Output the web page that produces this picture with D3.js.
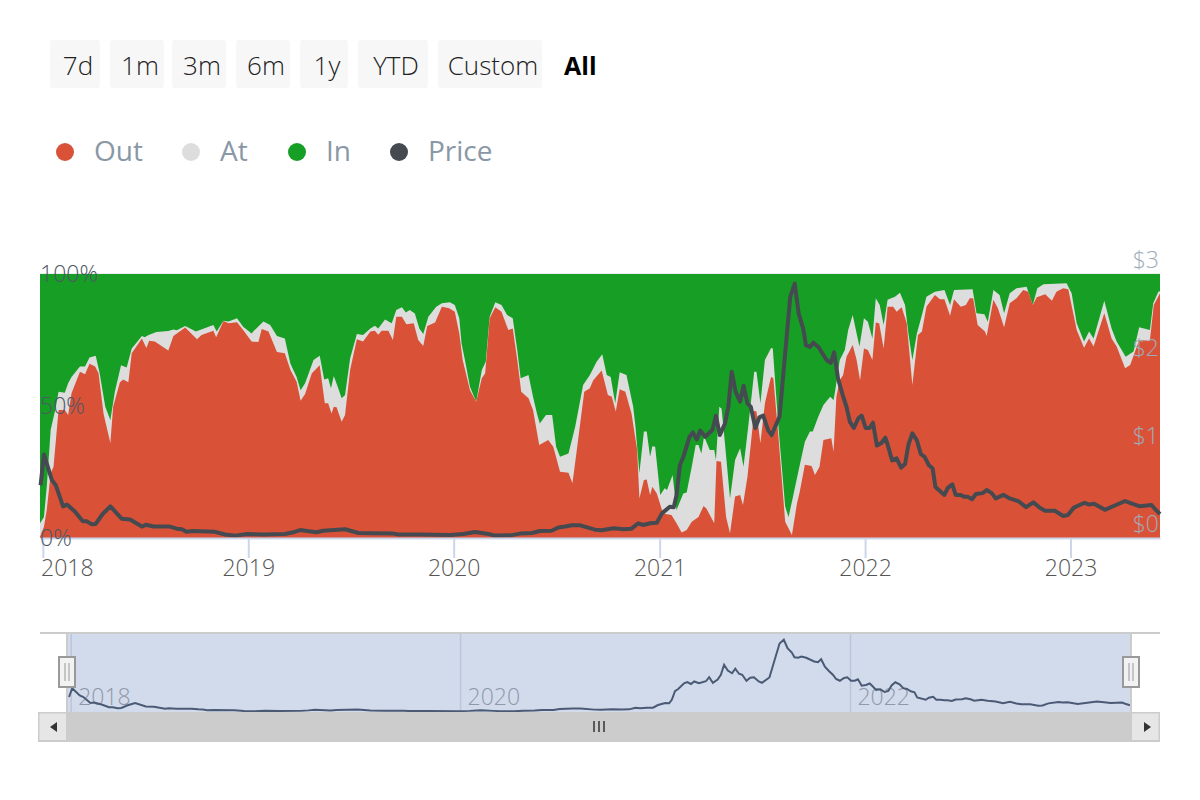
<!DOCTYPE html>
<html>
<head>
<meta charset="utf-8">
<script src="https://cdnjs.cloudflare.com/ajax/libs/d3/7.8.5/d3.min.js"></script>
<style>
  html, body { margin: 0; background: #fff; }
  svg { display: block; font-family: "Open Sans", sans-serif; }
</style>
</head>
<body>
<svg id="chart" width="1200" height="800"></svg>
<script>
// [weeks since startDate, value]
const startDate = new Date(2017, 11, 27);
const endDate = new Date(2023, 5, 9);

const rangeButtons = ['7d', '1m', '3m', '6m', '1y', 'YTD', 'Custom'];
const activeButton = 'All';
const legendNames = ['Out', 'At', 'In', 'Price'];
const yTicks = [0, 50, 100];
const priceTicks = [0, 1, 2, 3];
const navYears = [2018, 2020, 2022];

// Share of addresses out of the money, %
const outShare = [[0,0.5],[1,4.3],[1.7,10.6],[2.7,24.5],[3.4,27],[4.7,48.5],[6.3,48.5],[7.2,46.6],[8,54.8],[10.2,63],[11.4,62],[12.5,66],[14,65],[14.8,62.4],[16.2,47],[17.9,36],[18.6,49.7],[20.3,59],[21.2,60],[22.4,59],[23.3,70],[25.8,75.6],[27,72],[27.7,74.7],[29.2,74.4],[32.6,71],[33.8,76.5],[36.8,79.7],[39.8,75.3],[41,76.9],[44,78.5],[44.7,76],[46.5,82.2],[47.8,81.3],[50,81.7],[51.6,78.8],[53.7,74.4],[55.4,74.2],[56.3,79.2],[58,78.2],[60.2,70.5],[62.2,70],[63.5,63.6],[65.1,59.2],[66.2,52],[67.3,54.5],[69,62.4],[71,65.4],[72.3,51],[73.2,51],[74,47.2],[74.6,49.7],[75.3,49.5],[76.6,44],[77.4,46.6],[78.7,63.6],[80.4,75.3],[82,74.4],[83.8,78.2],[85,78.5],[85.9,77],[86.7,78.5],[88.4,78.5],[89.5,75],[90.4,83.8],[91.8,83.8],[93,81],[94.8,81.3],[96,75],[97.3,72.7],[98.3,80.3],[100.3,81.6],[102,87.6],[103.9,87],[105.3,85.7],[106.4,77.5],[107.3,67.4],[109.1,56],[110.7,51.6],[112.1,60.5],[113,62.4],[114.2,83.2],[115.5,87.4],[117.2,85.7],[118.9,78.8],[120,79.4],[121.2,67.4],[122.1,55.4],[124,52.9],[125.2,48.5],[126.7,35.2],[129,37.1],[130.3,34.6],[132,25.1],[134.1,24.7],[135.2,20.7],[136.2,32],[138.1,55.4],[139.6,56.7],[140.4,59.8],[142.6,63.4],[144.2,54.2],[145.1,53.5],[146.1,47.9],[147.2,56.3],[148.5,55.4],[150.2,47.2],[151.5,33.3],[152.1,15],[153.3,22],[154,22.2],[154.8,16.3],[155.4,19.4],[156.5,16.9],[158.2,9.3],[160.3,8.7],[161.6,5.6],[162.9,2.1],[164.1,3],[165.4,6.2],[167.1,8],[168.4,12.1],[169.2,11.2],[171.1,5.6],[171.7,29.2],[172.8,28.9],[174.1,8],[175.1,1.8],[176.4,15.7],[177.7,16.3],[178.4,12.5],[179.5,23.2],[181.3,48.2],[181.9,47.9],[182.9,35.9],[184,51],[185.5,61.1],[186.1,60.5],[187.4,38.4],[189.1,6.2],[190.8,1.1],[192.1,13.1],[192.9,17.6],[194.2,27.7],[195.9,27.3],[196.7,23.9],[197.8,27],[198.8,37.1],[200.9,37.8],[201.4,32.7],[202.2,53.5],[203,59.8],[203.9,61.7],[204.7,68.7],[206.3,73.1],[207.3,67.4],[208.1,59.8],[209.1,71.8],[210.2,71.2],[211.3,67.4],[212.2,81.6],[213,81.3],[214.2,71.8],[215.1,87.6],[216.6,87.6],[217.4,85.7],[218.7,87.4],[220,81.3],[221.4,58],[222.9,76.9],[223.8,78.2],[225,87.6],[227.2,92],[228.4,90.4],[229.5,90.4],[231,84.2],[232,90.4],[233.7,87.6],[235,88.3],[236,90.8],[236.9,90.8],[238,80.7],[239.9,78.2],[240.3,76.5],[242,90.2],[243.2,87],[244.7,79.8],[246.2,88.9],[247.9,90.8],[249.6,93.9],[250.9,93.3],[252,88.3],[253,91.2],[255.1,92.3],[256.8,89.9],[258,93.3],[259.7,94.6],[261,94.2],[263.1,78.8],[265,72.1],[266.3,75.6],[267.4,72.5],[270.1,85.1],[272,75.6],[273.3,72.5],[275.4,64.3],[276.7,65.5],[279,75],[281.7,74.7],[282.7,88.3],[284.3,92.7]];

// Out + at the money, stacked, %
const atStackTop = [[0,5.6],[1,8],[1.7,19.4],[2.7,41],[3.8,48.5],[4.7,55.4],[6.3,55],[7.2,58.6],[8,61],[10.2,65],[11.4,65],[12.5,68.4],[14.2,69],[15.2,62.4],[16.5,49.7],[17.8,44.7],[19,55.4],[20.5,65.4],[22,64.6],[23.3,71.8],[25.8,76.5],[26.6,76],[27.5,76.9],[29.6,78],[32.6,78.4],[33.8,79],[34.7,78.7],[36.8,80.3],[39.6,78.2],[44,80.7],[44.8,78.2],[46.5,82.3],[47.8,82],[50,83.2],[51.6,80],[53.7,77.5],[54.3,78.5],[56.7,82],[58.4,80.7],[60.2,76.5],[62.2,75.6],[63.5,66],[65.1,61],[66.2,56],[67.3,58.6],[69.4,67.4],[71,69],[72.1,60],[73.2,60.5],[73.8,56.7],[74.6,61.4],[75.5,57.3],[76.6,52.9],[77.4,54.2],[78.7,68],[80.4,77.3],[82,76.9],[83.8,79.4],[85,80.4],[85.9,79.4],[87.6,82.8],[89.3,81.3],[90.4,86.4],[91.8,87.4],[92.8,85.4],[93.9,86.4],[95.2,85],[96.3,79.4],[97.3,77.3],[98.6,83.8],[100.5,87.6],[102,88.9],[104,89.3],[105.3,88.3],[106.4,83.2],[107,73.7],[107.9,67.4],[109.1,57.3],[110.7,51.6],[112.1,63.6],[113.2,66.8],[114.2,83.8],[115.5,89.3],[117.2,88.3],[118.6,84.5],[120,83.2],[121.2,71.2],[122,60.5],[124,61.7],[125.2,53.5],[126.2,47.2],[126.9,43.4],[128.4,46.6],[130,46.6],[131,34.6],[132,30.8],[134.1,32],[135.8,42.2],[137.9,58],[139.6,61.7],[141.3,66.8],[142.7,69.6],[143.8,61.7],[144.8,61],[146,51],[147.2,62.8],[148.9,61.7],[150.6,49.7],[151.2,42.2],[152.1,24.5],[153.3,40.3],[154,40.3],[154.8,30.8],[155.4,34.8],[156.1,34.6],[157.4,16.3],[158.6,18.8],[159.2,18.2],[160.5,23.9],[161.6,10.6],[163.3,16.9],[164.1,17.2],[165.4,27],[166.4,35.2],[167.1,35.2],[167.9,32],[168.5,38.4],[170,33.3],[171.1,33.3],[171.6,29.5],[172.4,49.7],[173,49],[173.9,35.9],[175.1,15],[176.4,29.5],[177.7,34],[178.5,27],[179.8,43.4],[181.3,63],[181.9,63],[182.9,51],[184,67.4],[185.5,72],[186,71.8],[187.4,42.2],[189.1,11.9],[190,8],[191.2,15.7],[192.5,25.8],[194.2,36.5],[195.4,40.3],[196.1,40.3],[197.6,46],[198.8,50.4],[200.5,53.5],[201.4,52.3],[201.8,56],[203,67.4],[204.3,71.2],[205.2,78.8],[206.3,84.5],[207.3,77.5],[208,72.5],[209.1,83.2],[210.2,81.9],[211.3,75.6],[212.2,90.8],[213.2,88.3],[214.2,80.7],[215.1,90.2],[217,91.4],[218.3,92.9],[219.6,88.3],[220.4,77.5],[221.4,67.4],[222.5,77.5],[223.8,84.5],[225,91.4],[227.2,93.3],[229.5,93.9],[231,88.3],[232,93.9],[236.7,94.2],[237.7,85.1],[239.7,84.8],[240.5,81.9],[242,93.9],[243.5,92],[244.7,85.1],[246.2,92.7],[247.9,94.6],[250.4,95.2],[252,88.3],[253.1,94.6],[254.7,96.1],[260.6,96.5],[261.9,92.7],[263.1,81.3],[265,74.4],[266.3,78.2],[267.4,75.6],[270.1,89.9],[272,79.4],[273.3,74.4],[275.6,68.7],[277.5,70.6],[279,79.8],[281.7,78.8],[282.6,88.9],[283.8,93.3],[284.3,93.5]];

// Everything on top of the stack reaches 100%
const inStackTop = [[0,100],[284.3,100]];

// Price in USD
const price = [[0.2,0.6],[1,0.95],[3,0.66],[4,0.6],[5.9,0.36],[6.9,0.38],[8.9,0.3],[10.8,0.19],[11.8,0.19],[13.1,0.155],[14.2,0.16],[15.9,0.27],[17.9,0.36],[20.7,0.22],[22.8,0.21],[25.8,0.13],[26.8,0.15],[28.8,0.13],[33,0.13],[34.7,0.106],[36,0.1],[37.2,0.07],[38.9,0.08],[44.4,0.07],[47,0.04],[49.5,0.027],[52.5,0.045],[56.7,0.04],[62.2,0.045],[64.3,0.065],[66,0.09],[70.2,0.065],[71.9,0.083],[77.4,0.1],[80.8,0.057],[84.6,0.053],[89.7,0.05],[91,0.04],[96.5,0.04],[104.1,0.034],[107.4,0.045],[110.4,0.068],[113.8,0.045],[115.5,0.027],[119.3,0.03],[121.8,0.05],[124.8,0.057],[126.9,0.08],[129.9,0.083],[131.6,0.12],[133.3,0.13],[135,0.144],[137.1,0.144],[140.9,0.095],[142.6,0.087],[145.5,0.11],[148.1,0.1],[150.2,0.106],[151.9,0.167],[153.1,0.148],[154.8,0.167],[156.5,0.174],[157.8,0.28],[159.9,0.356],[160.8,0.35],[161.6,0.49],[162.4,0.83],[163.3,0.92],[164.8,1.15],[165.7,1.2],[166.7,1.12],[167.5,1.22],[168.8,1.15],[170.7,1.23],[171.6,1.39],[172.6,1.17],[173.9,1.3],[174.7,1.49],[175.6,1.89],[176.6,1.66],[177.7,1.55],[178.5,1.73],[179.5,1.53],[180.4,1.49],[181.5,1.25],[182.6,1.37],[183.6,1.39],[184.9,1.22],[185.7,1.17],[187.7,1.38],[190.4,2.74],[191.6,2.89],[192.5,2.55],[193.7,2.38],[194.4,2.19],[195.4,2.17],[196.3,2.22],[197.6,2.17],[199.7,2.02],[200.7,1.99],[201.5,2.11],[202.6,1.81],[203.7,1.63],[204.7,1.49],[205.6,1.32],[206.6,1.25],[207.7,1.36],[208.6,1.39],[209.6,1.25],[210.5,1.25],[211.4,1.31],[212.4,1.05],[213.5,1.08],[214.5,1.14],[215.3,1.04],[216.3,0.88],[217.4,0.905],[218.5,0.8],[219.6,0.84],[220.4,1.06],[221.4,1.19],[222.5,1.11],[223.5,0.955],[224.5,0.92],[225.5,0.83],[226.5,0.79],[227.3,0.58],[229.5,0.49],[230.4,0.57],[231.5,0.61],[232.4,0.49],[233.5,0.49],[234.5,0.47],[235.4,0.47],[236.5,0.44],[237.6,0.5],[239.3,0.51],[240.3,0.545],[241.5,0.51],[242.6,0.45],[244.5,0.49],[246.2,0.45],[248.3,0.42],[250.3,0.35],[252.1,0.405],[253.8,0.34],[255.1,0.31],[257.6,0.31],[259.7,0.25],[260.8,0.26],[262.4,0.345],[265.2,0.4],[266.3,0.38],[267.6,0.39],[270.3,0.32],[275.4,0.42],[279.2,0.36],[282.2,0.375],[283,0.33],[284.3,0.27]];

const colors = { out: '#d95238', at: '#dddddd', in: '#169e25', price: '#454a50' };

const svg = d3.select('#chart');
const dateOf = w => d3.timeDay.offset(startDate, Math.round(w * 7));

// Range buttons
const buttonX = [50, 110, 172, 236, 300, 358, 438];
const buttonW = [50, 54, 54, 54, 48, 70, 104];
const buttons = svg.append('g').selectAll('g').data(rangeButtons).enter().append('g');
buttons.append('rect')
  .attr('x', (d, i) => buttonX[i]).attr('y', 40)
  .attr('width', (d, i) => buttonW[i]).attr('height', 48)
  .attr('rx', 3).attr('fill', '#f7f7f7');
buttons.append('text')
  .attr('x', (d, i) => buttonX[i] + buttonW[i] / 2 + 3).attr('y', 75)
  .attr('text-anchor', 'middle').attr('font-size', 26).attr('font-weight', 300)
  .attr('fill', '#222').text(d => d);
svg.append('text').attr('x', 564).attr('y', 75)
  .attr('font-size', 25).attr('font-weight', 'bold').attr('fill', '#000').text(activeButton);

// Legend
const legendX = [65, 191, 297, 399];
const legendColors = [colors.out, colors.at, colors.in, colors.price];
const legend = svg.append('g').selectAll('g').data(legendNames).enter().append('g');
legend.append('circle')
  .attr('cx', (d, i) => legendX[i]).attr('cy', 152).attr('r', 9)
  .attr('fill', (d, i) => legendColors[i]);
legend.append('text')
  .attr('x', (d, i) => legendX[i] + 29).attr('y', 161)
  .attr('font-size', 28).attr('fill', '#8a97a5').text(d => d);

// Main plot
const x = d3.scaleTime().domain([startDate, endDate]).range([40, 1160]);
const y = d3.scaleLinear().domain([0, 100]).range([538, 274]);
const yPrice = d3.scaleLinear().domain([0, 3]).range([538, 274]);

const area = d3.area().x(d => x(dateOf(d[0]))).y0(y(0)).y1(d => y(d[1]));
const plot = svg.append('g');
plot.append('line').attr('x1', 40).attr('x2', 1160).attr('y1', 273.5).attr('y2', 273.5).attr('stroke', '#eeeeee');
plot.append('path').datum(inStackTop).attr('d', area).attr('fill', colors.in);
plot.append('path').datum(atStackTop).attr('d', area).attr('fill', colors.at);
plot.append('path').datum(outShare).attr('d', area).attr('fill', colors.out);

const priceLine = d3.line().x(d => x(dateOf(d[0]))).y(d => yPrice(d[1]));
plot.append('path').datum(price).attr('d', priceLine)
  .attr('fill', 'none').attr('stroke', colors.price).attr('stroke-width', 4).attr('stroke-linejoin', 'round');

// X axis
const xAxis = d3.axisBottom(x).ticks(d3.timeYear.every(1)).tickSize(20).tickSizeOuter(0).tickFormat(d3.timeFormat('%Y'));
const xG = svg.append('g').attr('transform', 'translate(0,538)').call(xAxis);
xG.select('.domain').attr('stroke', '#ccd6eb').attr('stroke-width', 2);
xG.selectAll('.tick line').attr('stroke', '#ccd6eb').attr('stroke-width', 2);
xG.selectAll('.tick text')
  .attr('y', 38).attr('dy', 0).attr('font-size', 23).attr('font-weight', 300)
  .attr('font-family', '"Open Sans", sans-serif').attr('fill', '#555')
  .attr('dx', d => d.getFullYear() === 2018 ? 24 : 0);

// Left and right labels, drawn on top of the areas
svg.append('g').selectAll('text').data(yTicks).enter().append('text')
  .attr('x', 40).attr('y', d => y(d) + 8)
  .attr('font-size', 23).attr('font-weight', 300).attr('fill', '#4d5766').text(d => d + '%');
svg.append('g').selectAll('text').data(priceTicks).enter().append('text')
  .attr('x', 1159).attr('y', d => yPrice(d) - 6).attr('text-anchor', 'end')
  .attr('font-size', 23).attr('font-weight', 300).attr('fill', '#a0abb8').text(d => '$' + d);

// Navigator
const navLeft = 67, navRight = 1131, navTop = 633, navBottom = 712;
const xNav = d3.scaleTime().domain([startDate, endDate]).range([68.5, 1130]);
const yNav = d3.scaleLinear().domain([0, 3]).range([navBottom, 637]);

svg.append('rect').attr('x', navLeft).attr('y', navTop)
  .attr('width', navRight - navLeft).attr('height', navBottom - navTop).attr('fill', '#d2dbec');
const navTicks = svg.append('g').selectAll('g').data(navYears).enter().append('g');
navTicks.append('line')
  .attr('x1', d => xNav(new Date(d, 0, 1))).attr('x2', d => xNav(new Date(d, 0, 1)))
  .attr('y1', navTop).attr('y2', navBottom).attr('stroke', '#bcc6d8').attr('stroke-width', 1.5);
navTicks.append('text')
  .attr('x', d => xNav(new Date(d, 0, 1)) + 7).attr('y', 705)
  .attr('font-size', 23).attr('font-weight', 300).attr('fill', '#8f98a8').text(d => d);

const navLine = d3.line().x(d => xNav(dateOf(d[0]))).y(d => yNav(d[1]));
svg.append('path').datum(price).attr('d', navLine)
  .attr('fill', 'none').attr('stroke', '#4a5a75').attr('stroke-width', 2);

svg.append('line').attr('x1', 40).attr('x2', 1160).attr('y1', navTop).attr('y2', navTop)
  .attr('stroke', '#cccccc').attr('stroke-width', 2);
[navLeft, navRight].forEach(hx => {
  svg.append('line').attr('x1', hx).attr('x2', hx).attr('y1', navTop).attr('y2', navBottom)
    .attr('stroke', '#cccccc').attr('stroke-width', 2);
  svg.append('rect').attr('x', hx - 8).attr('y', 657).attr('width', 16).attr('height', 30)
    .attr('fill', '#f2f2f2').attr('stroke', '#999').attr('stroke-width', 2);
  [-2, 2].forEach(o => {
    svg.append('line').attr('x1', hx + o).attr('x2', hx + o).attr('y1', 663).attr('y2', 681)
      .attr('stroke', '#999').attr('stroke-width', 1);
  });
});

// Scrollbar
svg.append('rect').attr('x', 38).attr('y', 712).attr('width', 1122).attr('height', 30).attr('fill', '#cccccc');
[39.5, 1132].forEach(bx => {
  svg.append('rect').attr('x', bx).attr('y', 713.5).attr('width', 26.5).attr('height', 26.5).attr('fill', '#e6e6e6');
});
svg.append('path').attr('d', 'M57,722L50,727L57,732Z').attr('fill', '#333');
svg.append('path').attr('d', 'M1144,722L1151,727L1144,732Z').attr('fill', '#333');
[-5, 0, 5].forEach(o => {
  svg.append('line').attr('x1', 599 + o).attr('x2', 599 + o).attr('y1', 721).attr('y2', 732)
    .attr('stroke', '#333').attr('stroke-width', 1.5);
});
</script>
</body>
</html>
